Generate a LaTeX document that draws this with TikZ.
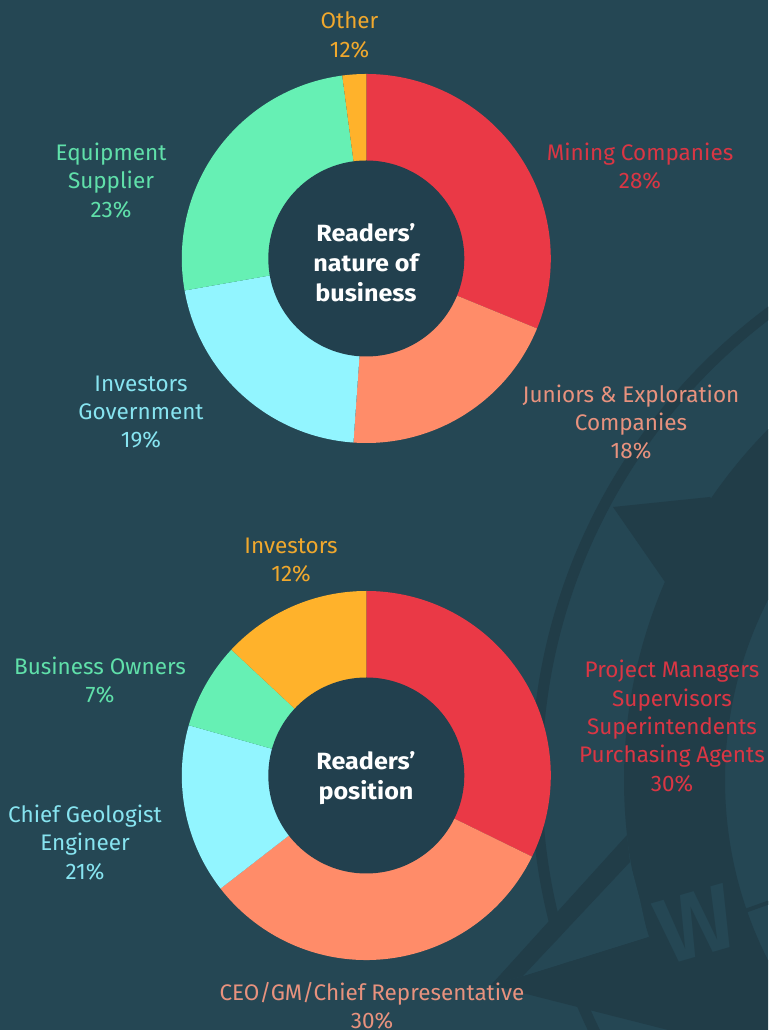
\documentclass[tikz,border=0pt]{standalone}
\usepackage{fontspec}
\setmainfont{Fira Sans}[FakeStretch=1.0]
\newfontfamily\boldlabel{Fira Sans Bold}[FakeStretch=1.07]
\newfontfamily\compass{Fira Sans SemiBold}[FakeStretch=1.0]
\definecolor{bg}{RGB}{37,71,84}
\definecolor{dk}{RGB}{33,61,72}
\definecolor{hole}{RGB}{34,64,78}
\definecolor{cred}{RGB}{234,57,70}
\definecolor{corange}{RGB}{255,140,105}
\definecolor{ccyan}{RGB}{146,245,255}
\definecolor{cgreen}{RGB}{102,240,180}
\definecolor{cyellow}{RGB}{255,178,43}
\definecolor{tred}{RGB}{218,54,68}
\definecolor{torange}{RGB}{232,146,126}
\definecolor{tcyan}{RGB}{135,228,240}
\definecolor{tgreen}{RGB}{96,224,170}
\definecolor{tyellow}{RGB}{240,168,45}
\newcommand{\slicepart}[5]{% cx cy start end colour
  \fill[#5] (#1,#2) ++(#3:97pt) -- ++(#3:87.5pt) arc[start angle=#3,end angle=#4,radius=184.5pt] -- ++(#4:-87.5pt) arc[start angle=#4,end angle=#3,radius=97pt] -- cycle;}
\tikzset{
  lab/.style={align=center,inner sep=0pt,font=\fontsize{22.5}{28.3}\selectfont},
  centrelab/.style={align=center,inner sep=0pt,text=white,font=\boldlabel\fontsize{23.5}{30}\selectfont},
  holeshape/.style={circle,fill=hole,minimum size=196pt,inner sep=0pt}
}
\begin{document}
\begin{tikzpicture}[x=1pt,y=1pt]
\useasboundingbox (0,0) rectangle (768,1030);
\clip (0,0) rectangle (768,1030);
\fill[bg] (0,0) rectangle (768,1030);
% compass watermark (y = 1030 - pixel y)
\draw[dk,line width=11pt] (1118,252) circle[radius=581.5pt];
\fill[dk,even odd rule] (1123,250) circle[radius=499pt] (1123,250) circle[radius=398pt];
\fill[dk] (665,448) -- (613,523) -- (710,533) -- (760,480) -- cycle;
\fill[dk] (648,93) -- (523,54) -- (491,45) -- (668,0) -- (720,0) -- (720,60) -- cycle;
\fill[bg] (630,168) -- (523,54) -- (648,93) -- (640,130) -- cycle;
\fill[dk] (627,195) -- (491,45) -- (523,54) -- (630,168) -- cycle;
\draw[dk,line width=4pt] (742,118) -- (770,128);
\node[text=bg,rotate=16,inner sep=0pt,font=\compass\fontsize{92}{92}\selectfont] (compassw) at (696,106) {W};
% top donut
\slicepart{366.3}{771.5}{90}{-22.3}{cred}
\slicepart{366.3}{771.5}{-22.3}{-94}{corange}
\slicepart{366.3}{771.5}{-94}{-170}{ccyan}
\slicepart{366.3}{771.5}{190}{97.5}{cgreen}
\slicepart{366.3}{771.5}{97.5}{90}{cyellow}
\node[holeshape] (tophole) at (366.3,771.5) {};
\node[centrelab] (toptitle) at (366,767) {Readers’\\nature of\\business};
% bottom donut
\slicepart{366.3}{254.5}{90}{-26.1}{cred}
\slicepart{366.3}{254.5}{-26.1}{-142.2}{corange}
\slicepart{366.3}{254.5}{217.8}{164.2}{ccyan}
\slicepart{366.3}{254.5}{164.2}{137}{cgreen}
\slicepart{366.3}{254.5}{137}{90}{cyellow}
\node[holeshape] (bothole) at (366.3,254.5) {};
\node[centrelab] (bottitle) at (366,252) {Readers’\\position};
% labels
\node[lab,text=tyellow] (l1) at (349.5,995) {Other\\12\%};
\node[lab,text=tred] (l2) at (640,864) {Mining Companies\\28\%};
\node[lab,text=torange] (l3) at (631,608) {Juniors \& Exploration\\Companies\\18\%};
\node[lab,text=tcyan] (l4) at (141,618) {Investors\\Government\\19\%};
\node[lab,text=tgreen] (l5) at (111,849.5) {Equipment\\Supplier\\23\%};
\node[lab,text=tyellow] (l6) at (291,470) {Investors\\12\%};
\node[lab,text=tgreen] (l7) at (100,350) {Business Owners\\7\%};
\node[lab,text=tcyan] (l8) at (85,187.5) {Chief Geologist\\Engineer\\21\%};
\node[lab,text=torange] (l9) at (372,24) {CEO/GM/Chief Representative\\30\%};
\node[lab,text=tred] (l10) at (672,304) {Project Managers\\Supervisors\\Superintendents\\Purchasing Agents\\30\%};
\end{tikzpicture}
\end{document}
